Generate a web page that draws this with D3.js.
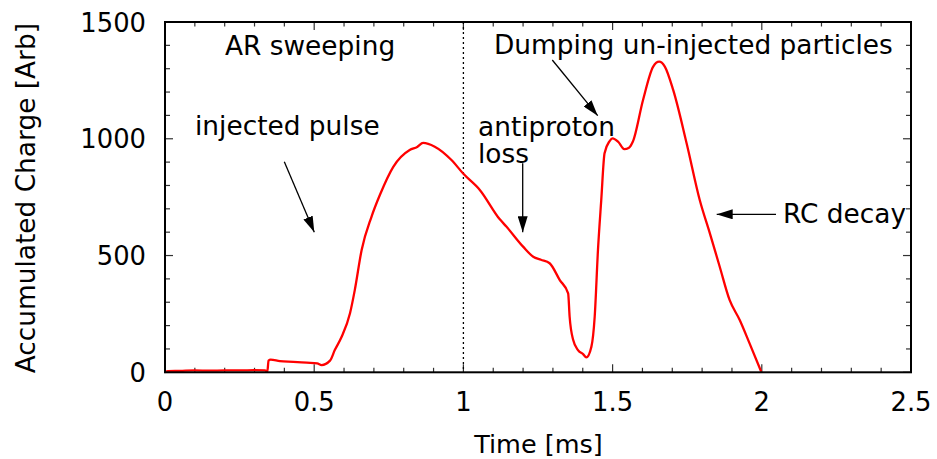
<!DOCTYPE html>
<html>
<head>
<meta charset="utf-8">
<script src="https://cdn.jsdelivr.net/npm/d3@7/dist/d3.min.js"></script>
<style>
  body { margin: 0; background: #fff; }
  svg { display: block; font-family: "DejaVu Sans", sans-serif; }
</style>
</head>
<body>
<svg id="chart" width="937" height="459"></svg>
<script>
// ---- data ----
const times = [0, 0.01, 0.05, 0.1, 0.15, 0.2, 0.25, 0.3, 0.335, 0.343, 0.347, 0.354, 0.385, 0.43, 0.475, 0.51, 0.525, 0.553,
  0.569, 0.592, 0.62, 0.636, 0.659, 0.692, 0.72, 0.765, 0.82, 0.845, 0.865, 0.904, 0.96, 1.0, 1.055, 1.122, 1.144, 1.2, 1.234,
  1.26, 1.289, 1.323, 1.351, 1.356, 1.368, 1.384, 1.401, 1.412, 1.429, 1.44, 1.451, 1.462, 1.473, 1.49, 1.5, 1.52, 1.539,
  1.555, 1.568, 1.602, 1.636, 1.656, 1.675, 1.703, 1.748, 1.792, 1.826, 1.859, 1.892, 1.926, 1.959, 1.998];
const charge = [0, 5, 6, 8, 7, 8, 8, 9, 8, 3, 50, 54, 48, 45, 41, 38, 31, 50,
  95, 152, 253, 352, 524, 666, 759, 880, 952, 965, 982, 966, 909, 850, 781, 655, 624, 538, 495,
  482, 467, 395, 338, 238, 138, 95, 78, 64, 110, 238, 524, 738, 938, 990, 1002, 985, 956,
  962, 988, 1166, 1309, 1330, 1309, 1209, 981, 738, 595, 452, 310, 224, 124, 3];
const xTicks = [0, 0.5, 1, 1.5, 2, 2.5];
const xTickLabels = ["0", "0.5", "1", "1.5", "2", "2.5"];
const yTicks = [0, 500, 1000, 1500];
const yTickLabels = ["0", "500", "1000", "1500"];
const xLabel = "Time [ms]";
const yLabel = "Accumulated Charge [Arb]";
const dividerTime = 1;
const annotations = [
  { text: "AR sweeping", x: 225, y: 55 },
  { text: "injected pulse", x: 195, y: 135 },
  { text: "antiproton", x: 478, y: 135.5 },
  { text: "loss", x: 478, y: 163 },
  { text: "Dumping un-injected particles", x: 494, y: 54 },
  { text: "RC decay", x: 783, y: 223 }
];
const arrows = [
  { x1: 284.3, y1: 161.7, x2: 314.3, y2: 232.3 },
  { x1: 522.7, y1: 163.3, x2: 522.7, y2: 232.3 },
  { x1: 552.3, y1: 60, x2: 597.7, y2: 115.7 },
  { x1: 776, y1: 214.3, x2: 716.7, y2: 214.3 }
];

// ---- layout ----
const L = 165, R = 911, T = 22, B = 372.3;
const svg = d3.select("#chart");
const x = d3.scaleLinear().domain([0, 2.5]).range([L, R]);
const y = d3.scaleLinear().domain([0, 1500]).range([B, T]);

svg.append("defs").append("marker")
  .attr("id", "ah").attr("viewBox", "0 0 16 10").attr("refX", 16).attr("refY", 5)
  .attr("markerWidth", 16).attr("markerHeight", 10).attr("markerUnits", "userSpaceOnUse")
  .attr("orient", "auto")
  .append("path").attr("d", "M0,0 L16,5 L0,10 Z").attr("fill", "#000");

// ticks (mirror on all sides)
const tickColor = "#333";
const xMinor = d3.range(0, 2.5001, 0.1);
const yMinor = d3.range(0, 1500.1, 100);
const tg = svg.append("g").attr("stroke", tickColor).attr("stroke-width", 1.2);
xMinor.forEach(v => {
  const major = Math.abs(v * 2 - Math.round(v * 2)) < 1e-6;
  const len = major ? 8 : 4.5;
  tg.append("line").attr("x1", x(v)).attr("x2", x(v)).attr("y1", B).attr("y2", B - len);
  tg.append("line").attr("x1", x(v)).attr("x2", x(v)).attr("y1", T).attr("y2", T + len);
});
yMinor.forEach(v => {
  const major = Math.round(v) % 500 === 0;
  const len = major ? 8 : 5;
  tg.append("line").attr("y1", y(v)).attr("y2", y(v)).attr("x1", L).attr("x2", L + len);
  tg.append("line").attr("y1", y(v)).attr("y2", y(v)).attr("x1", R).attr("x2", R - len);
});

// divider
svg.append("line").attr("x1", x(dividerTime)).attr("x2", x(dividerTime))
  .attr("y1", T).attr("y2", B).attr("stroke", "#000").attr("stroke-width", 1.3)
  .attr("stroke-dasharray", "2,3");

// curve
const pts = times.map((t, i) => [t, charge[i]]);
svg.append("path").datum(pts)
  .attr("d", d3.line().x(d => x(d[0])).y(d => y(d[1])).curve(d3.curveMonotoneX))
  .attr("fill", "none").attr("stroke", "#ff0000").attr("stroke-width", 2.3)
  .attr("stroke-linejoin", "round");

// frame
svg.append("rect").attr("x", L).attr("y", T).attr("width", R - L).attr("height", B - T)
  .attr("fill", "none").attr("stroke", "#000").attr("stroke-width", 2);

// tick labels
const fs = 25.8;
svg.append("g").selectAll("text").data(xTicks).join("text")
  .attr("x", d => x(d)).attr("y", 411).attr("text-anchor", "middle")
  .attr("font-size", fs).text((d, i) => xTickLabels[i]);
svg.append("g").selectAll("text").data(yTicks).join("text")
  .attr("x", 146).attr("y", d => y(d) + 9.5).attr("text-anchor", "end")
  .attr("font-size", fs).text((d, i) => yTickLabels[i]);

// axis labels
svg.append("text").attr("x", (L + R) / 2 + 0.5).attr("y", 453).attr("text-anchor", "middle")
  .attr("font-size", 25.5).text(xLabel);
svg.append("text").attr("transform", `translate(35,${(T + B) / 2 + 1}) rotate(-90)`)
  .attr("text-anchor", "middle").attr("font-size", 26.4).text(yLabel);

// annotations
svg.append("g").selectAll("text").data(annotations).join("text")
  .attr("x", d => d.x).attr("y", d => d.y).attr("font-size", 26.4).text(d => d.text);
svg.append("g").selectAll("line").data(arrows).join("line")
  .attr("x1", d => d.x1).attr("y1", d => d.y1).attr("x2", d => d.x2).attr("y2", d => d.y2)
  .attr("stroke", "#000").attr("stroke-width", 1.3).attr("marker-end", "url(#ah)");
</script>
</body>
</html>
